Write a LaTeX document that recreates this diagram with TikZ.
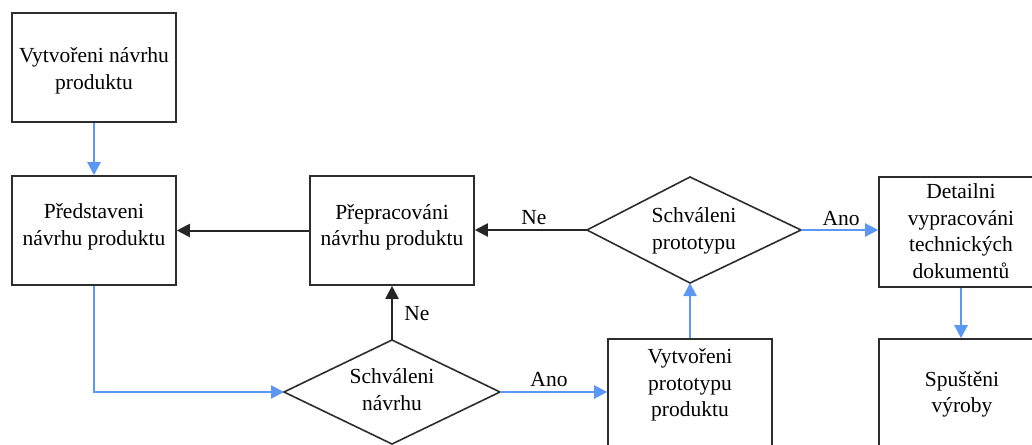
\documentclass[tikz,border=0pt]{standalone}
\usepackage{fontspec}
\setmainfont{Liberation Serif}
\usetikzlibrary{arrows.meta}
\definecolor{flowblue}{RGB}{91,152,245}
\definecolor{edgegray}{RGB}{45,45,45}
\begin{document}
\begin{tikzpicture}[x=1pt,y=-1pt,
  box/.style={draw=edgegray,line width=1.6pt,minimum width=164pt,minimum height=109pt,inner sep=0pt},
  txt/.style={align=center,inner sep=0pt,font=\fontsize{21.5}{26.5}\selectfont},
  lbl/.style={inner sep=0pt,font=\fontsize{21.5}{26}\selectfont},
  dshape/.style={draw=edgegray,line width=1.6pt,line join=miter},
  blueline/.style={draw=flowblue,line width=2.2pt,-{Triangle[length=13pt,width=13pt]}},
  blackline/.style={draw=black!85,line width=2pt,-{Triangle[length=13pt,width=13pt]}}]
\useasboundingbox (0,0) rectangle (1032,444);
\clip (0,0) rectangle (1032,444);
\fill[white] (0,0) rectangle (1032,444);
% boxes
\node[box] (b1) at (94,67.5) {};
\node[box] (b2) at (94,230.5) {};
\node[box] (b3) at (392,230.5) {};
\node[box] (proto) at (690,393.5) {};
\node[box,minimum height=110pt] (det) at (961,232) {};
\node[box] (spu) at (961,393.5) {};
% diamonds
\coordinate (d1l) at (284,392);
\coordinate (d1t) at (392,340);
\coordinate (d1r) at (500,392);
\coordinate (d1b) at (392,444);
\draw[dshape] (d1l) -- (d1t) -- (d1r) -- (d1b) -- cycle;
\coordinate (d2l) at (587,230);
\coordinate (d2t) at (690,177);
\coordinate (d2r) at (801,230);
\coordinate (d2b) at (690,283);
\draw[dshape] (d2l) -- (d2t) -- (d2r) -- (d2b) -- cycle;
% texts
\node[txt] (t1) at (94,71) {Vytvořeni návrhu\\produktu};
\node[txt] (t2) at (94,227) {Představeni\\návrhu produktu};
\node[txt] (t3) at (392,227.5) {Přepracováni\\návrhu produktu};
\node[txt] (td1) at (392,389.5) {Schváleni\\návrhu};
\node[txt] (td2) at (694,231) {Schváleni\\prototypu};
\node[txt] (tproto) at (690,385) {Vytvořeni\\prototypu\\produktu};
\node[txt] (tdet) at (961,231) {Detailni\\vypracováni\\technických\\dokumentů};
\node[txt] (tspu) at (962,394.5) {Spuštěni\\výroby};
% connectors
\draw[blueline] (b1.south) -- (b2.north);
\draw[blueline] (b2.south) |- (d1l);
\draw[blackline] (d1t) -- (b3.south);
\draw[blackline] (b3.west) -- (b2.east);
\draw[blueline] (d1r) -- (proto.west |- d1r);
\draw[blueline] (proto.north) -- (d2b);
\draw[blackline] (d2l) -- (b3.east |- d2l);
\draw[blueline] (d2r) -- (det.west |- d2r);
\draw[blueline] (det.south) -- (spu.north);
% labels
\node[lbl,anchor=base] (ne1) at (417,320) {Ne};
\node[lbl,anchor=base] (ne2) at (534,224) {Ne};
\node[lbl,anchor=base] (ano1) at (549,386) {Ano};
\node[lbl,anchor=base] (ano2) at (841,225) {Ano};
\end{tikzpicture}
\end{document}
